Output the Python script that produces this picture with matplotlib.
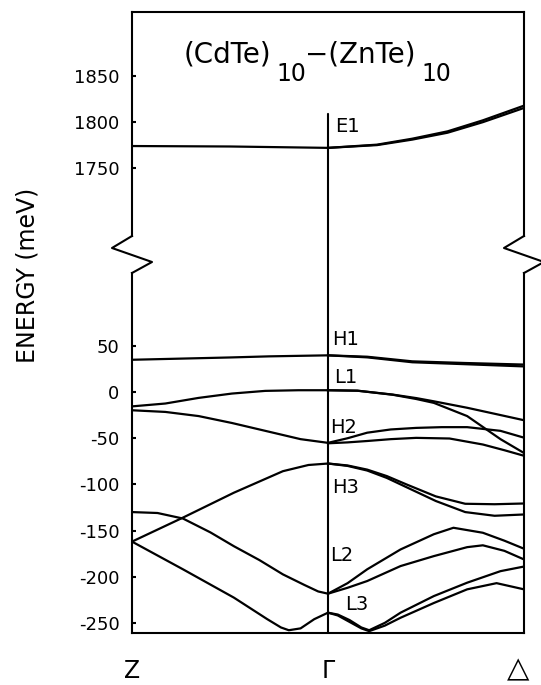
import matplotlib
matplotlib.use("Agg")
import matplotlib.pyplot as plt
from matplotlib.lines import Line2D
from matplotlib.patches import ConnectionPatch
from matplotlib.transforms import blended_transform_factory

plt.rcParams["axes.unicode_minus"] = False

# k runs from Z (-1) through Gamma (0) to Delta (1)
# --- upper panel (conduction band) ---
e1a_k = [-1, -0.5, 0, 0.25, 0.43, 0.61, 0.79, 1]
e1a_E = [1774, 1773.5, 1772, 1775.5, 1782, 1790, 1802, 1818]
e1b_k = [0, 0.25, 0.43, 0.61, 0.79, 1]
e1b_E = [1772, 1775, 1781, 1788.5, 1800, 1815.5]

# --- lower panel (valence bands) ---
h1a_k = [-1, -0.5, -0.3, 0, 0.2, 0.43, 0.7, 1]
h1a_E = [35, 37.5, 38.7, 39.8, 38.3, 33.3, 31.5, 29.8]
h1b_k = [0, 0.2, 0.43, 0.7, 1]
h1b_E = [39.8, 37.6, 32.3, 30.2, 27.8]

l1l_k = [-1, -0.83, -0.66, -0.49, -0.32, -0.15, 0]
l1l_E = [-15.5, -12.4, -6.3, -1.6, 1.3, 2.0, 2.0]
l1a_k = [0, 0.15, 0.33, 0.45, 0.54, 0.71, 0.85, 1]
l1a_E = [2, 1.5, -2.7, -6.5, -10, -17, -23.5, -30.5]
l1b_k = [0, 0.15, 0.33, 0.45, 0.54, 0.71, 0.88, 1]
l1b_E = [2, 1.5, -2.9, -7.5, -11.7, -26, -51, -66]

h2l_k = [-1, -0.83, -0.66, -0.49, -0.32, -0.14, 0]
h2l_E = [-19.7, -21.5, -26, -33.5, -42, -51, -55]
h2a_k = [0, 0.1, 0.2, 0.32, 0.45, 0.58, 0.71, 0.88, 1]
h2a_E = [-55, -50, -44, -40.5, -38.8, -38, -38, -42, -49.4]
h2b_k = [0, 0.1, 0.2, 0.32, 0.45, 0.62, 0.79, 0.9, 1]
h2b_E = [-55.5, -54.5, -53, -51, -49.6, -50.3, -56.8, -63, -69]

h3l_k = [-1, -0.74, -0.48, -0.23, -0.1, 0]
h3l_E = [-162, -136, -109, -85.7, -79, -77.4]
h3a_k = [0, 0.1, 0.2, 0.3, 0.4, 0.55, 0.7, 0.85, 1]
h3a_E = [-77.4, -79.5, -84, -91, -100, -113, -121, -121.5, -120.7]
h3b_k = [0, 0.1, 0.2, 0.3, 0.4, 0.55, 0.7, 0.85, 1]
h3b_E = [-77.4, -80, -85, -93, -103, -118, -130, -134, -132.6]

cross_k = [-1, -0.87, -0.74, -0.6, -0.48, -0.35, -0.23, -0.12, -0.05, 0]
cross_E = [-130, -131, -137, -152, -167, -182, -197.5, -209, -216, -218.4]

low_k = [-1, -0.74, -0.48, -0.31, -0.24, -0.2, -0.14, -0.07, 0]
low_E = [-162, -192, -222.7, -246, -255, -258, -256, -246, -239]

l2a_k = [0, 0.1, 0.2, 0.37, 0.54, 0.64, 0.79, 0.9, 1]
l2a_E = [-218.4, -207, -192, -170.5, -154, -147, -152.4, -161, -169.7]
l2b_k = [0, 0.1, 0.2, 0.37, 0.54, 0.71, 0.79, 0.9, 1]
l2b_E = [-218.4, -212, -204.7, -188.5, -177.7, -168, -166, -172, -181.3]

l3a_k = [0, 0.05, 0.11, 0.17, 0.21, 0.29, 0.37, 0.54, 0.71, 0.88, 1]
l3a_E = [-239, -241, -247, -255, -258, -250, -239, -221, -206.5, -194, -189]
l3b_k = [0, 0.05, 0.11, 0.17, 0.21, 0.29, 0.37, 0.54, 0.71, 0.86, 1]
l3b_E = [-239, -242, -249, -256, -259, -253, -244.5, -228.5, -213.7, -207, -213.7]

top_ticks = [1750, 1800, 1850]
bot_ticks = [-250, -200, -150, -100, -50, 0, 50]
kpoint_labels = ["Z", "Γ", "△"]
kpoint_pos = [-1, 0, 0.97]
kpoint_size = [17, 17, 21]

band_names = ["H1", "L1", "H2", "H3", "L2", "L3"]
band_name_pos = [(0.02, 57), (0.03, 16), (0.01, -38), (0.02, -103), (0.01, -177), (0.087, -230)]

W, H = 541, 685
fig = plt.figure(figsize=(W / 100, H / 100), dpi=100)


def fx(px):
    return px / W


def fy(py):
    return 1 - py / H


ax_top = fig.add_axes([fx(132), fy(236), fx(392), (236 - 12) / H])
ax_bot = fig.add_axes([fx(132), fy(633), fx(392), (633 - 273) / H])

lw = 1.6
ax_top.plot(e1a_k, e1a_E, color="black", lw=lw)
ax_top.plot(e1b_k, e1b_E, color="black", lw=lw)

curves = [(h1a_k, h1a_E), (h1b_k, h1b_E), (l1l_k, l1l_E), (l1a_k, l1a_E), (l1b_k, l1b_E),
          (h2l_k, h2l_E), (h2a_k, h2a_E), (h2b_k, h2b_E), (h3l_k, h3l_E), (h3a_k, h3a_E),
          (h3b_k, h3b_E), (cross_k, cross_E), (low_k, low_E), (l2a_k, l2a_E), (l2b_k, l2b_E),
          (l3a_k, l3a_E), (l3b_k, l3b_E)]
for k, E in curves:
    ax_bot.plot(k, E, color="black", lw=lw)

ax_top.set_xlim(-1, 1)
ax_bot.set_xlim(-1, 1)
ax_top.set_ylim(1676, 1920)
ax_bot.set_ylim(-261, 129)

for ax in (ax_top, ax_bot):
    ax.set_xticks([])
    for sp in ax.spines.values():
        sp.set_linewidth(1.5)
    ax.tick_params(axis="y", direction="in", length=3, width=1.5, pad=9, labelsize=13)
ax_top.spines["bottom"].set_visible(False)
ax_bot.spines["top"].set_visible(False)
ax_top.set_yticks(top_ticks)
ax_bot.set_yticks(bot_ticks)

# Gamma line runs across the break
con = ConnectionPatch(xyA=(0, 1809), coordsA=ax_top.transData,
                      xyB=(0, -261), coordsB=ax_bot.transData, color="black", lw=1.5)
fig.add_artist(con)

# break zigzags
for x0 in (132, 524):
    xs = [fx(x0), fx(x0 - 20), fx(x0 + 20), fx(x0)]
    ys = [fy(236), fy(248), fy(262), fy(273)]
    fig.add_artist(Line2D(xs, ys, color="black", lw=1.5))

ax_top.text(0.036, 1795, "E1", fontsize=14, va="center", ha="left")
for name, (kx, ey) in zip(band_names, band_name_pos):
    ax_bot.text(kx, ey, name, fontsize=14, va="center", ha="left")

# title with full-size subscripts
fig.text(fx(184), fy(62), "(CdTe)", fontsize=20, va="baseline")
fig.text(fx(276), fy(81), "10", fontsize=17, va="baseline")
fig.text(fx(305), fy(62), "\u2212(ZnTe)", fontsize=20, va="baseline")
fig.text(fx(421), fy(81), "10", fontsize=17, va="baseline")

kp_trans = blended_transform_factory(ax_bot.transData, fig.transFigure)
for lab, kx, fs in zip(kpoint_labels, kpoint_pos, kpoint_size):
    ax_bot.text(kx, fy(683), lab, fontsize=fs, ha="center", va="bottom", transform=kp_trans)

fig.text(fx(28), fy(275), "ENERGY (meV)", rotation=90, fontsize=17, ha="center", va="center")

fig.savefig("out.png", dpi=100)
